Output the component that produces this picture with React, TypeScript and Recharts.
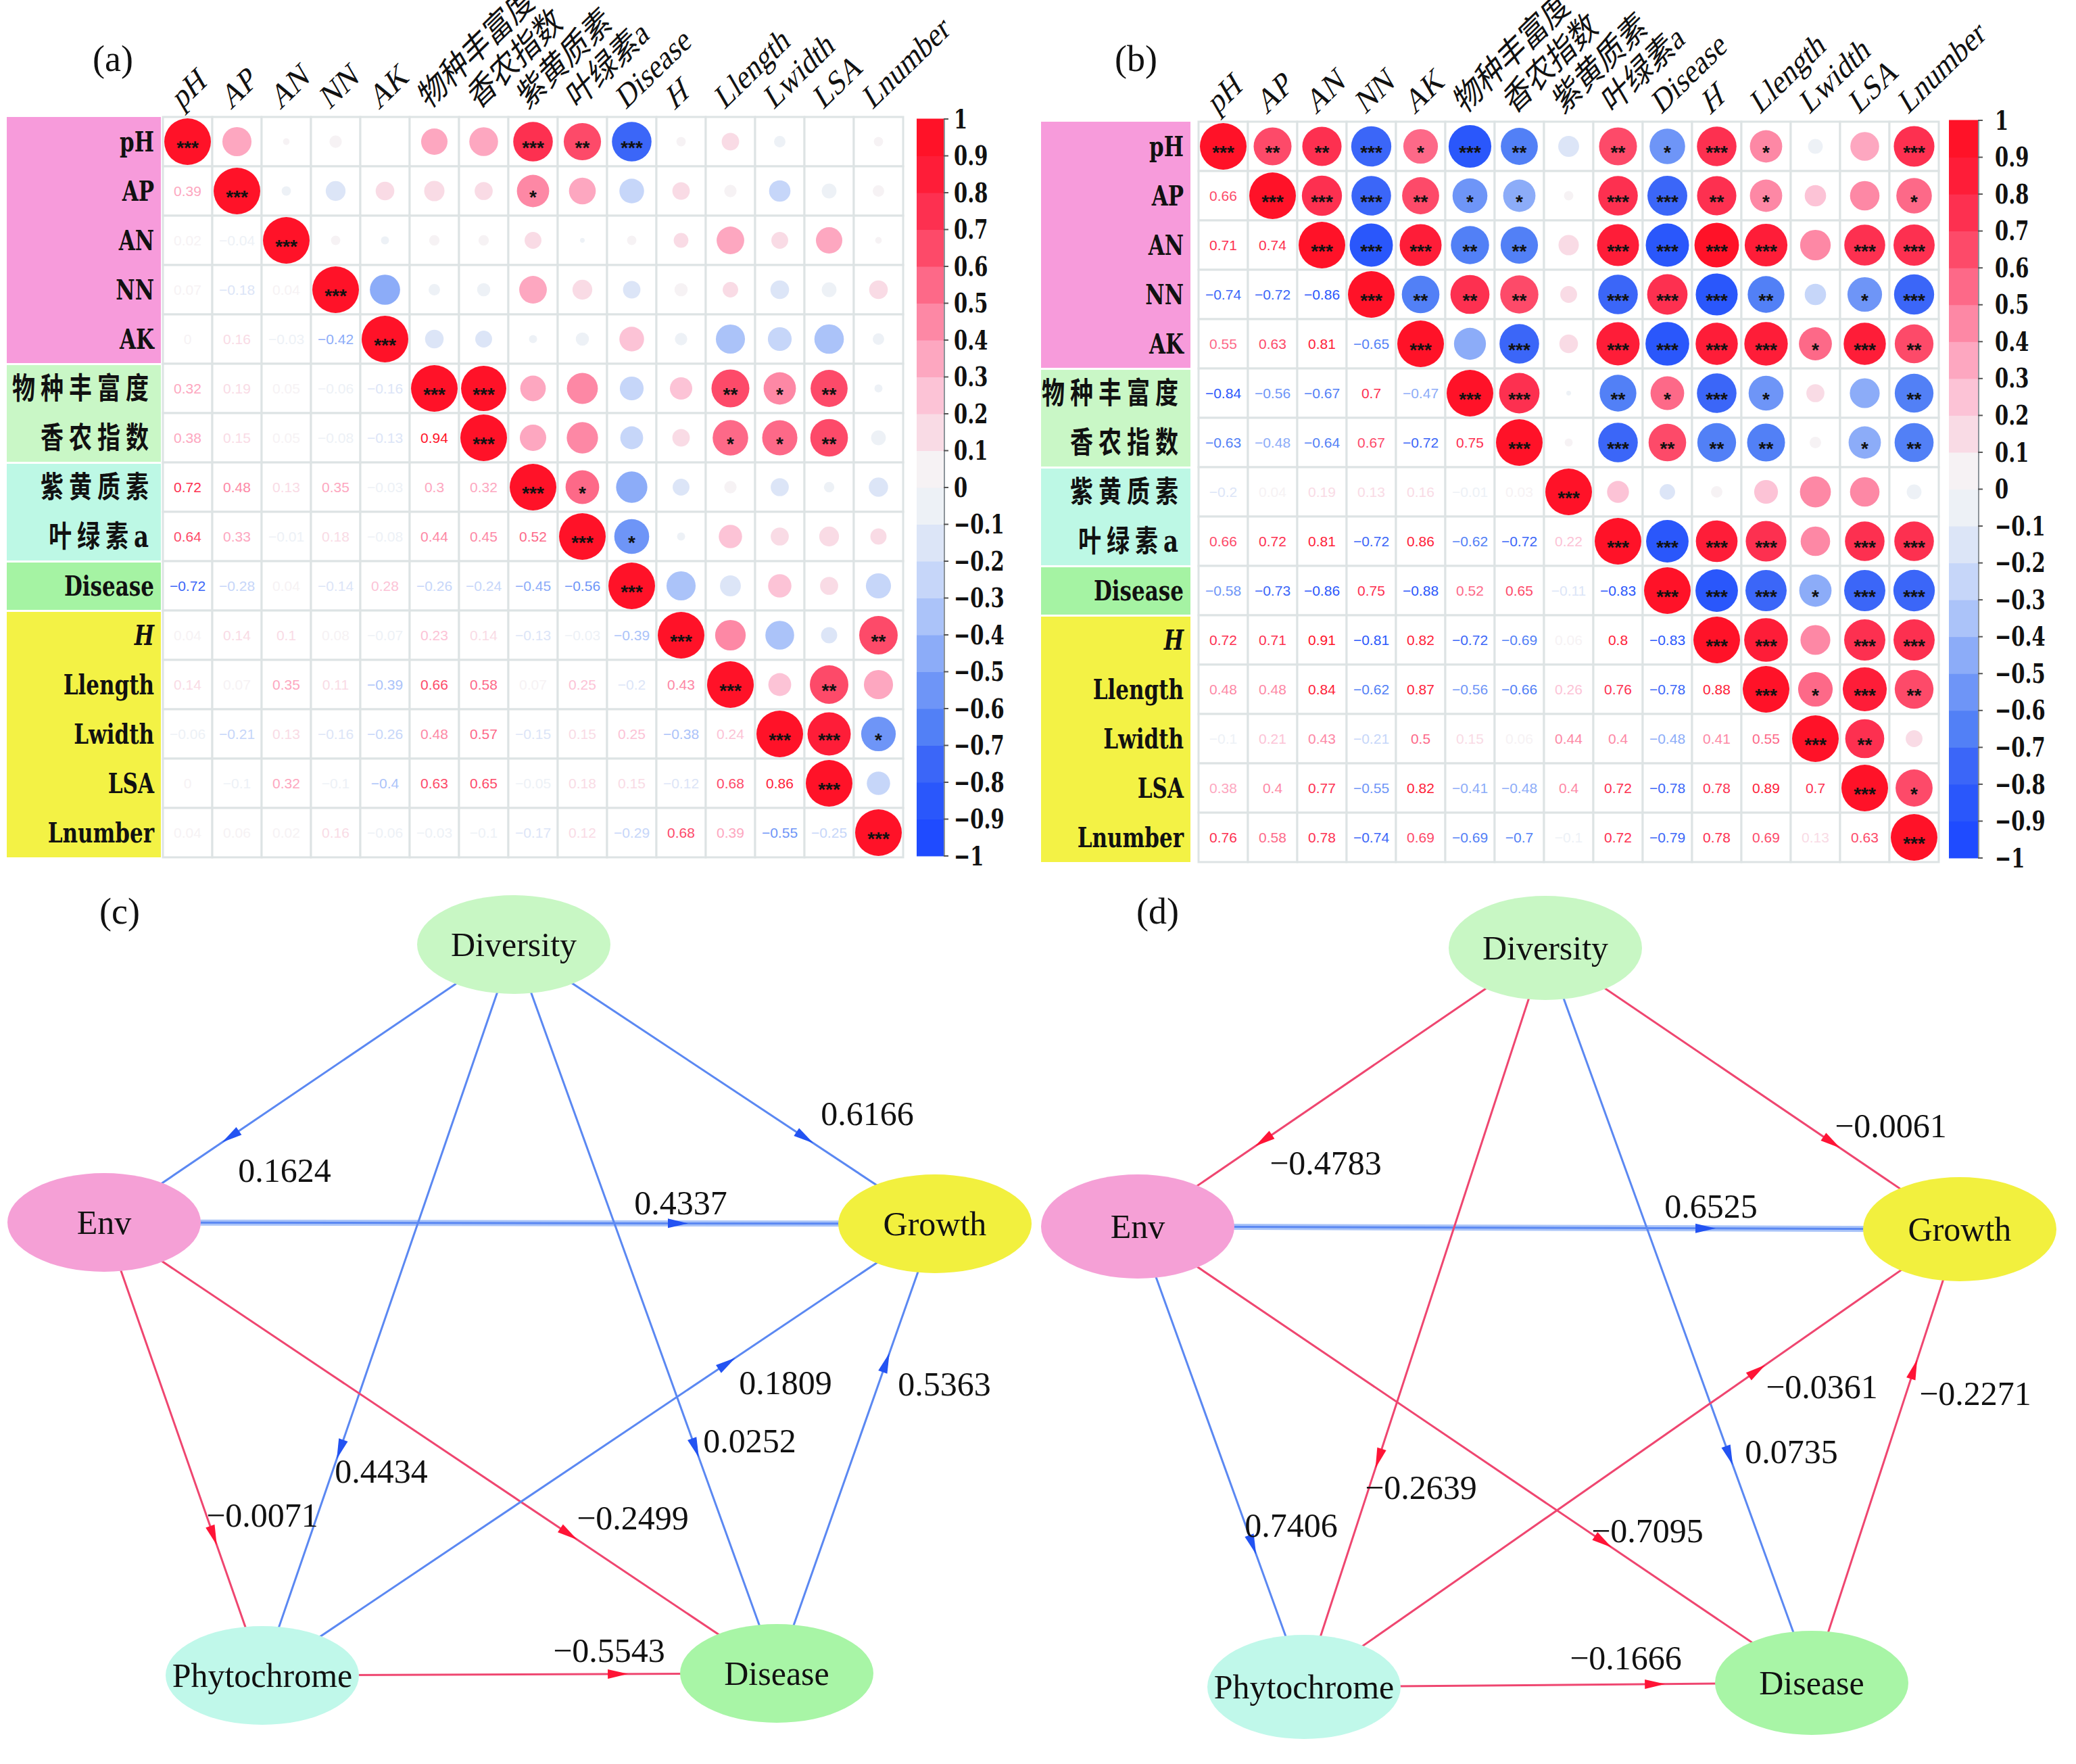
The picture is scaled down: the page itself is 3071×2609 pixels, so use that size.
import React from "react";
import { ScatterChart, Scatter, XAxis, YAxis, ReferenceLine } from "recharts";

// ---- correlation matrices ----
const VARIABLES = ["pH", "AP", "AN", "NN", "AK", "物种丰富度", "香农指数", "紫黄质素", "叶绿素a", "Disease", "H", "Llength", "Lwidth", "LSA", "Lnumber"];
const VAR_GROUP = [0, 0, 0, 0, 0, 1, 1, 2, 2, 3, 4, 4, 4, 4, 4];
const VAR_INDEX = [0, 1, 2, 3, 4, 5, 6, 7, 8, 9, 10, 11, 12, 13, 14];

// lower triangle, row i holds r(i, 0..i-1)
const LOWER_A: number[][] = [
  [],
  [0.39],
  [0.02, -0.04],
  [0.07, -0.18, 0.04],
  [0, 0.16, -0.03, -0.42],
  [0.32, 0.19, 0.05, -0.06, -0.16],
  [0.38, 0.15, 0.05, -0.08, -0.13, 0.94],
  [0.72, 0.48, 0.13, 0.35, -0.03, 0.3, 0.32],
  [0.64, 0.33, -0.01, 0.18, -0.08, 0.44, 0.45, 0.52],
  [-0.72, -0.28, 0.04, -0.14, 0.28, -0.26, -0.24, -0.45, -0.56],
  [0.04, 0.14, 0.1, 0.08, -0.07, 0.23, 0.14, -0.13, -0.03, -0.39],
  [0.14, 0.07, 0.35, 0.11, -0.39, 0.66, 0.58, 0.07, 0.25, -0.2, 0.43],
  [-0.06, -0.21, 0.13, -0.16, -0.26, 0.48, 0.57, -0.15, 0.15, 0.25, -0.38, 0.24],
  [0, -0.1, 0.32, -0.1, -0.4, 0.63, 0.65, -0.05, 0.18, 0.15, -0.12, 0.68, 0.86],
  [0.04, 0.06, 0.02, 0.16, -0.06, -0.03, -0.1, -0.17, 0.12, -0.29, 0.68, 0.39, -0.55, -0.25],
];

// significance marks, row i holds cols i+1..14
const STARS_A: string[][] = [
  ["", "", "", "", "", "", "***", "**", "***", "", "", "", "", ""],
  ["", "", "", "", "", "*", "", "", "", "", "", "", ""],
  ["", "", "", "", "", "", "", "", "", "", "", ""],
  ["", "", "", "", "", "", "", "", "", "", ""],
  ["", "", "", "", "", "", "", "", "", ""],
  ["***", "", "", "", "", "**", "*", "**", ""],
  ["", "", "", "", "*", "*", "**", ""],
  ["*", "", "", "", "", "", ""],
  ["*", "", "", "", "", ""],
  ["", "", "", "", ""],
  ["", "", "", "**"],
  ["", "**", ""],
  ["***", "*"],
  [""],
];

const LOWER_B: number[][] = [
  [],
  [0.66],
  [0.71, 0.74],
  [-0.74, -0.72, -0.86],
  [0.55, 0.63, 0.81, -0.65],
  [-0.84, -0.56, -0.67, 0.7, -0.47],
  [-0.63, -0.48, -0.64, 0.67, -0.72, 0.75],
  [-0.2, 0.04, 0.19, 0.13, 0.16, -0.01, 0.03],
  [0.66, 0.72, 0.81, -0.72, 0.86, -0.62, -0.72, 0.22],
  [-0.58, -0.73, -0.86, 0.75, -0.88, 0.52, 0.65, -0.11, -0.83],
  [0.72, 0.71, 0.91, -0.81, 0.82, -0.72, -0.69, 0.06, 0.8, -0.83],
  [0.48, 0.48, 0.84, -0.62, 0.87, -0.56, -0.66, 0.26, 0.76, -0.78, 0.88],
  [-0.1, 0.21, 0.43, -0.21, 0.5, 0.15, 0.06, 0.44, 0.4, -0.48, 0.41, 0.55],
  [0.38, 0.4, 0.77, -0.55, 0.82, -0.41, -0.48, 0.4, 0.72, -0.78, 0.78, 0.89, 0.7],
  [0.76, 0.58, 0.78, -0.74, 0.69, -0.69, -0.7, -0.1, 0.72, -0.79, 0.78, 0.69, 0.13, 0.63],
];

const STARS_B: string[][] = [
  ["**", "**", "***", "*", "***", "**", "", "**", "*", "***", "*", "", "", "***"],
  ["***", "***", "**", "*", "*", "", "***", "***", "**", "*", "", "", "*"],
  ["***", "***", "**", "**", "", "***", "***", "***", "***", "", "***", "***"],
  ["**", "**", "**", "", "***", "***", "***", "**", "", "*", "***"],
  ["", "***", "", "***", "***", "***", "***", "*", "***", "**"],
  ["***", "", "**", "*", "***", "*", "", "", "**"],
  ["", "***", "**", "**", "**", "", "*", "**"],
  ["", "", "", "", "", "", ""],
  ["***", "***", "***", "", "***", "***"],
  ["***", "***", "*", "***", "***"],
  ["***", "", "***", "***"],
  ["*", "***", "**"],
  ["**", ""],
  ["*"],
];

const COLORBAR_TICKS = [-1, -0.9, -0.8, -0.7, -0.6, -0.5, -0.4, -0.3, -0.2, -0.1, 0, 0.1, 0.2, 0.3, 0.4, 0.5, 0.6, 0.7, 0.8, 0.9, 1];

// ---- path models ----
const PATH_NODES = ["Diversity", "Env", "Growth", "Phytochrome", "Disease"];
const PATH_EDGES: [string, string][] = [
  ["Diversity", "Env"],
  ["Diversity", "Growth"],
  ["Env", "Growth"],
  ["Diversity", "Phytochrome"],
  ["Diversity", "Disease"],
  ["Env", "Phytochrome"],
  ["Env", "Disease"],
  ["Phytochrome", "Growth"],
  ["Disease", "Growth"],
  ["Phytochrome", "Disease"],
];
const COEF_C = [0.1624, 0.6166, 0.4337, 0.4434, 0.0252, -0.0071, -0.2499, 0.1809, 0.5363, -0.5543];
const COEF_D = [-0.4783, -0.0061, 0.6525, -0.2639, 0.0735, 0.7406, -0.7095, -0.0361, -0.2271, -0.1666];

// node layout (diagram units)
const LAYOUT_C: Record<string, [number, number]> = {
  Diversity: [76.0, 10.7],
  Env: [15.4, 51.8],
  Growth: [138.3, 52.0],
  Phytochrome: [38.8, 118.8],
  Disease: [114.9, 118.5],
};
const LAYOUT_D: Record<string, [number, number]> = {
  Diversity: [74.6, 11.2],
  Env: [14.3, 52.4],
  Growth: [135.9, 52.8],
  Phytochrome: [38.9, 120.5],
  Disease: [114.0, 119.9],
};
const LABEL_AT_C: [number, number][] = [
  [42.1, 44.1], [128.3, 35.7], [100.7, 48.9], [56.4, 88.6], [110.9, 84.1],
  [38.8, 95.1], [93.6, 95.5], [116.2, 75.5], [139.7, 75.7], [90.1, 115.1],
];
const LABEL_AT_D: [number, number][] = [
  [42.1, 43.0], [125.7, 37.5], [99.1, 49.4], [56.2, 91.0], [111.0, 85.7],
  [37.0, 96.6], [89.7, 97.4], [115.5, 76.1], [138.2, 77.1], [86.5, 116.2],
];

// ---- styles ----
const PALETTE = [
  "#1f4bff", "#2a57fb", "#3b66f8", "#5280f6", "#6e95f7", "#8cacf8", "#abc3f9", "#c6d6f9", "#dce5f7", "#edf1f6",
  "#f6f2f4", "#f9dbe5", "#fcc3d6", "#fda7c0", "#fd88a5", "#fd6988", "#fd4a69", "#fd3050", "#fe1d38", "#ff1228",
];
const GROUP_FILL = ["#f79bdb", "#c9f7c6", "#bdf8e5", "#a5f3a3", "#f3f245"];
const NODE_FILL: Record<string, string> = {
  Diversity: "#c8f7c4",
  Env: "#f5a0d6",
  Growth: "#f2f03e",
  Phytochrome: "#c0f8ea",
  Disease: "#a8f5a6",
};
const CELL = 73;
const GRID = CELL * 15;
const HEADER_H = 160;
const LABEL_W = 232;
const BLOCK_W = 228;
const SERIF = "'Liberation Serif', 'Noto Sans CJK SC', serif";
const BOLD_SERIF = "'DejaVu Serif', 'Noto Sans CJK SC', serif";
const ARROW_AT = 0.69;

const corrColor = (r: number) => {
  const bin = Math.floor(Math.round((r + 1) * 10 * 1e6) / 1e6);
  return PALETTE[Math.max(0, Math.min(19, bin))];
};
const minus = (s: string) => s.replace("-", "\u2212");
const isCJK = (s: string) => /[\u4e00-\u9fff]/.test(s);

const CellShape = (props: any) => {
  const { cx, cy, payload } = props;
  const h = CELL / 2;
  const color = corrColor(payload.r);
  return (
    <g>
      <rect x={cx - h} y={cy - h} width={CELL} height={CELL} fill="#ffffff" stroke="#dde3e4" strokeWidth={3} />
      {payload.kind === "lower" ? (
        <text x={cx} y={cy} textAnchor="middle" dominantBaseline="central" fontFamily="'Liberation Sans', sans-serif" fontSize={21} fill={color}>
          {minus(String(payload.r))}
        </text>
      ) : (
        <g>
          <circle cx={cx} cy={cy} r={Math.sqrt(Math.abs(payload.r)) * 34.5} fill={color} />
          {payload.stars ? (
            <text x={cx} y={cy + 18} textAnchor="middle" fontFamily="'Liberation Sans', sans-serif" fontWeight="bold" fontSize={28} fill="#111">
              {payload.stars}
            </text>
          ) : null}
        </g>
      )}
    </g>
  );
};

const ColTick = (props: any) => {
  const { x, y, payload } = props;
  const name = VARIABLES[payload.value];
  return (
    <text
      transform={`translate(${x - 9},${y - 10}) scale(1,1.3) rotate(-37)`}
      fontFamily={SERIF}
      fontSize={40}
      fontStyle={name === "H" ? "italic" : "normal"}
      fill="#111"
    >
      {name}
    </text>
  );
};

const RowTick = (props: any) => {
  const { x, y, payload, gap } = props;
  const i = payload.value;
  const g = VAR_GROUP[i];
  const topGap = i > 0 && VAR_GROUP[i - 1] !== g ? 2 : 0;
  const botGap = i < 14 && VAR_GROUP[i + 1] !== g ? 1 : 0;
  const name = VARIABLES[i];
  const cjk = isCJK(name);
  return (
    <g>
      <rect x={x - gap - BLOCK_W} y={y - CELL / 2 + topGap} width={BLOCK_W} height={CELL - topGap - botGap} fill={GROUP_FILL[g]} />
      <text
        transform={`translate(${x - gap - 10},${y}) scale(1,1.3)`}
        textAnchor="end"
        dominantBaseline="central"
        fontFamily={BOLD_SERIF}
        fontWeight="bold"
        fontSize={cjk ? 34 : 31}
        letterSpacing={cjk ? 8 : 0}
        fontStyle={name === "H" ? "italic" : "normal"}
        fill="#111"
      >
        {name}
      </text>
    </g>
  );
};

const CbTick = (props: any) => {
  const { x, y, payload } = props;
  return (
    <text transform={`translate(${x},${y}) scale(1,1.35)`} dominantBaseline="central" fontFamily="'DejaVu Serif', serif" fontWeight="bold" fontSize={29} fill="#111">
      {minus(String(payload.value))}
    </text>
  );
};

const CorrHeatmap = ({ left, top, width, height, plotLeft, plotTop, labelGap, lower, stars }: any) => {
  const cells: any[] = [];
  VAR_INDEX.forEach((i) => {
    VAR_INDEX.forEach((j) => {
      const r = i === j ? 1 : j < i ? lower[i][j] : lower[j][i];
      const kind = i === j ? "diag" : j < i ? "lower" : "upper";
      const s = i === j ? "***" : j > i ? stars[i][j - i - 1] : "";
      cells.push({ x: j, y: i, r, kind, stars: s });
    });
  });
  return (
    <div style={{ position: "absolute", left, top }}>
      <ScatterChart
        width={width}
        height={height}
        margin={{ top: plotTop - HEADER_H, left: plotLeft - LABEL_W, right: width - plotLeft - GRID, bottom: height - plotTop - GRID }}
      >
        <XAxis
          type="number"
          dataKey="x"
          domain={[-0.5, 14.5]}
          ticks={VAR_INDEX}
          interval={0}
          orientation="top"
          height={HEADER_H}
          axisLine={false}
          tickLine={false}
          tickSize={0}
          tickMargin={0}
          tick={<ColTick />}
        />
        <YAxis
          type="number"
          dataKey="y"
          domain={[-0.5, 14.5]}
          reversed
          ticks={VAR_INDEX}
          interval={0}
          width={LABEL_W}
          axisLine={false}
          tickLine={false}
          tickSize={0}
          tickMargin={0}
          tick={(p: any) => <RowTick {...p} gap={labelGap} />}
        />
        <Scatter data={cells} shape={CellShape} isAnimationActive={false} />
      </ScatterChart>
    </div>
  );
};

const ColorBar = ({ left, top, barW, barH, labelOffset }: any) => {
  const bins = PALETTE.map((c, i) => ({ x: 0.5, y: (COLORBAR_TICKS[i] + COLORBAR_TICKS[i + 1]) / 2, color: c }));
  const axisW = 140;
  return (
    <div style={{ position: "absolute", left, top: top - 30 }}>
      <ScatterChart width={barW + axisW + 10} height={barH + 60} margin={{ top: 30, bottom: 30, left: 0, right: 10 }}>
        <XAxis type="number" dataKey="x" domain={[0, 1]} hide />
        <YAxis
          type="number"
          dataKey="y"
          domain={[-1, 1]}
          orientation="right"
          ticks={COLORBAR_TICKS}
          interval={0}
          width={axisW}
          axisLine={{ stroke: "#8d949a", strokeWidth: 4 }}
          tickLine={{ stroke: "#555", strokeWidth: 2 }}
          tickSize={7}
          tickMargin={labelOffset}
          tick={<CbTick />}
        />
        <Scatter
          data={bins}
          shape={(p: any) => (
            <rect x={p.cx - barW / 2} y={p.cy - barH / 40 - 0.5} width={barW} height={barH / 20 + 1} fill={p.payload.color} />
          )}
          isAnimationActive={false}
        />
        <ReferenceLine x={0} stroke="#111" strokeWidth={4} ifOverflow="visible" />
      </ScatterChart>
    </div>
  );
};

const Empty = () => <g />;

const PathDiagram = ({ left, top, layout, coefs, labelAt, rx, ry }: any) => {
  const pos = (id: string) => ({ x: layout[id][0], y: layout[id][1] });
  const edges = PATH_EDGES.map(([a, b], i) => ({
    a: pos(a),
    b: pos(b),
    coef: coefs[i],
    thick: a === "Env" && b === "Growth",
  }));
  const arrows = edges.map((e) => {
    const dx = e.b.x - e.a.x;
    const dy = e.b.y - e.a.y;
    return {
      x: e.a.x + ARROW_AT * dx,
      y: e.a.y + ARROW_AT * dy,
      angle: (Math.atan2(dy, dx) * 180) / Math.PI,
      color: e.coef >= 0 ? "#2353f2" : "#ff1436",
    };
  });
  const nodes = PATH_NODES.map((id) => ({ ...pos(id), id }));
  const labels = edges.map((e, i) => ({ x: labelAt[i][0], y: labelAt[i][1], text: minus(e.coef.toFixed(4)) }));
  return (
    <div style={{ position: "absolute", left, top }}>
      <ScatterChart width={1540} height={1320} margin={{ top: 0, right: 0, bottom: 0, left: 0 }}>
        <XAxis type="number" dataKey="x" domain={[0, 154]} hide />
        <YAxis type="number" dataKey="y" domain={[0, 132]} reversed hide />
        {edges.map((e, i) =>
          e.thick ? (
            <Scatter key={`t${i}`} data={[e.a, e.b]} fill="#aac4f8" line={{ strokeWidth: 9 }} shape={Empty} isAnimationActive={false} />
          ) : null
        )}
        {edges.map((e, i) => (
          <Scatter
            key={`e${i}`}
            data={[e.a, e.b]}
            fill={e.coef >= 0 ? "#5b88f2" : "#ef4670"}
            line={{ strokeWidth: 3 }}
            shape={Empty}
            isAnimationActive={false}
          />
        ))}
        <Scatter
          data={arrows}
          shape={(p: any) => (
            <polygon
              points="16,0 -14,-7 -14,7"
              transform={`translate(${p.cx},${p.cy}) rotate(${p.payload.angle})`}
              fill={p.payload.color}
            />
          )}
          isAnimationActive={false}
        />
        <Scatter
          data={nodes}
          shape={(p: any) => (
            <g>
              <ellipse cx={p.cx} cy={p.cy} rx={rx} ry={ry} fill={NODE_FILL[p.payload.id]} />
              <text x={p.cx} y={p.cy} textAnchor="middle" dominantBaseline="central" fontFamily={SERIF} fontSize={50} fill="#111">
                {p.payload.id}
              </text>
            </g>
          )}
          isAnimationActive={false}
        />
        <Scatter
          data={labels}
          shape={(p: any) => (
            <text x={p.cx} y={p.cy} textAnchor="middle" dominantBaseline="central" fontFamily={SERIF} fontSize={50} fill="#111">
              {p.payload.text}
            </text>
          )}
          isAnimationActive={false}
        />
      </ScatterChart>
    </div>
  );
};

const panelLabel = (text: string, left: number, top: number) => (
  <div style={{ position: "absolute", left, top, fontFamily: SERIF, fontSize: 54, lineHeight: "54px", color: "#111" }}>{text}</div>
);

export default function App() {
  return (
    <div style={{ position: "absolute", left: 0, top: 0, width: 3071, height: 2609, background: "#ffffff", overflow: "hidden" }}>
      <CorrHeatmap left={0} top={0} width={1460} height={1290} plotLeft={241} plotTop={173} labelGap={3} lower={LOWER_A} stars={STARS_A} />
      <CorrHeatmap left={1540} top={0} width={1520} height={1290} plotLeft={233} plotTop={180} labelGap={12} lower={LOWER_B} stars={STARS_B} />
      <ColorBar left={1356} top={176} barW={40} barH={1090} labelOffset={8} />
      <ColorBar left={2883} top={178} barW={43} barH={1091} labelOffset={18} />
      <PathDiagram left={0} top={1290} layout={LAYOUT_C} coefs={COEF_C} labelAt={LABEL_AT_C} rx={143} ry={73} />
      <PathDiagram left={1540} top={1290} layout={LAYOUT_D} coefs={COEF_D} labelAt={LABEL_AT_D} rx={143} ry={77} />
      {panelLabel("(a)", 137, 60)}
      {panelLabel("(b)", 1649, 60)}
      {panelLabel("(c)", 147, 1321)}
      {panelLabel("(d)", 1681, 1321)}
    </div>
  );
}
